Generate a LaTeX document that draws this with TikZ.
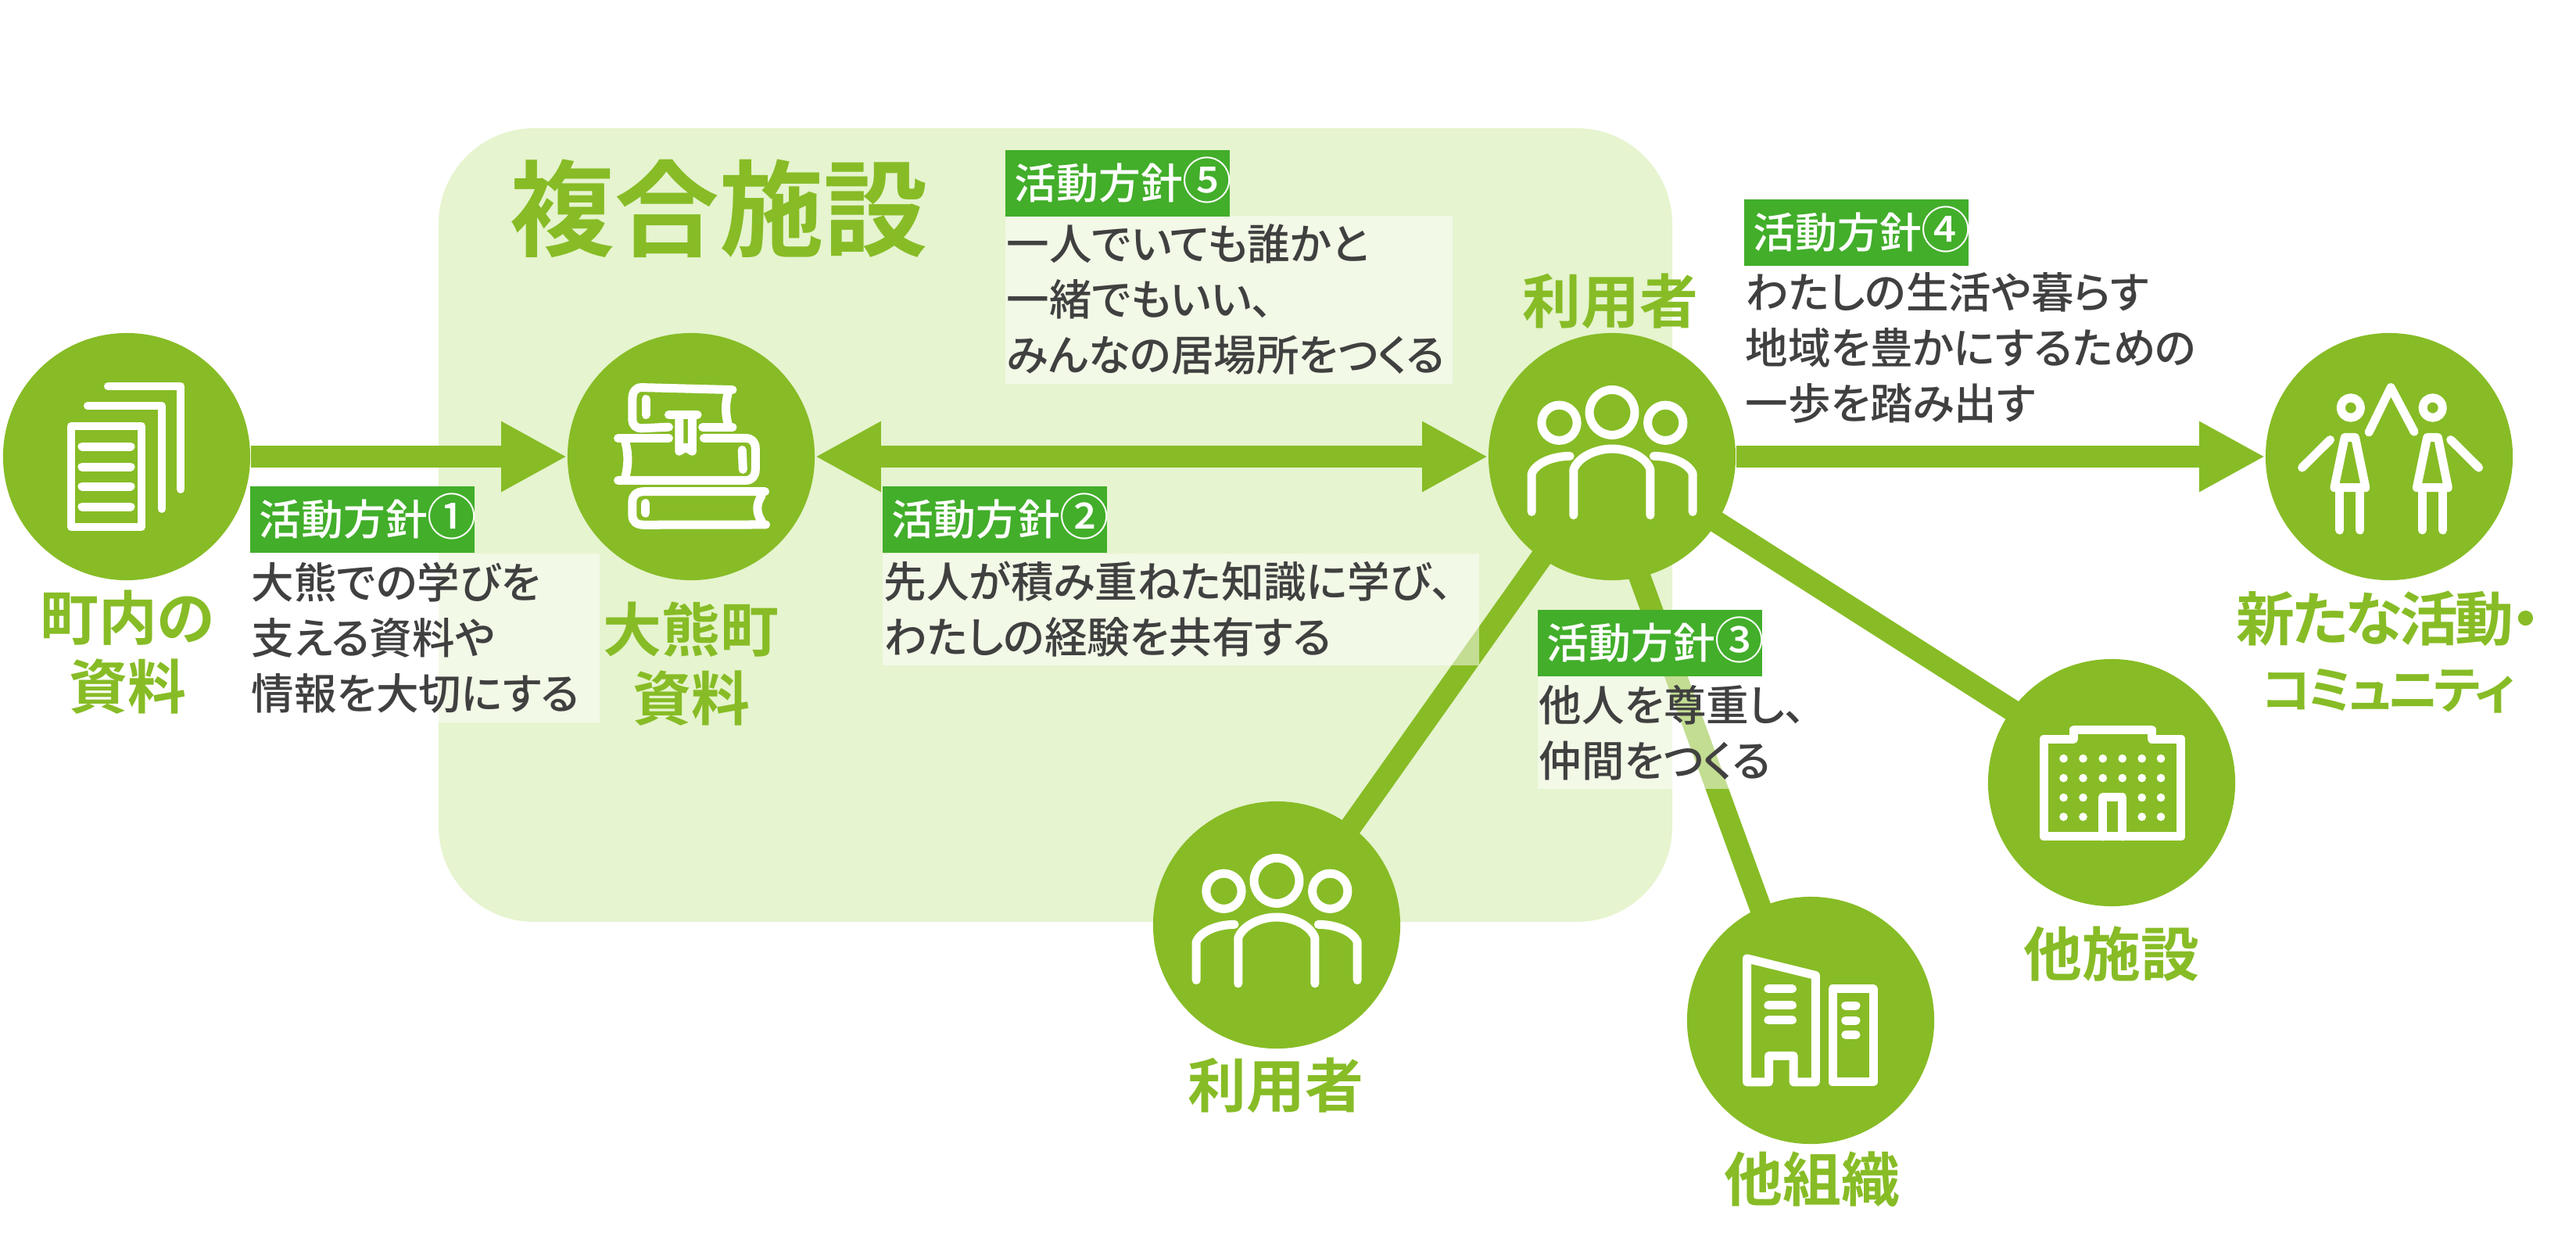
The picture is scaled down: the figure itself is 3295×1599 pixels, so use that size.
\documentclass[tikz,border=0pt]{standalone}
\usepackage{fontspec}
\setmainfont[RawFeature=+palt]{Noto Sans CJK JP}
\newfontfamily\jpmedium[RawFeature=+palt]{Noto Sans CJK JP Medium}
\newfontfamily\jpbold[RawFeature=+palt]{Noto Sans CJK JP Bold}
\usetikzlibrary{arrows.meta}
\definecolor{leaf}{HTML}{87BC26}
\definecolor{tagleaf}{HTML}{42AE2A}
\definecolor{paleleaf}{HTML}{E6F4CF}
\definecolor{inkgray}{HTML}{404040}
\newcommand{\policytag}[1]{活動方針\smash{\fontsize{18}{17}\selectfont #1}}
\tikzset{
	roundnode/.style={circle,fill=leaf,minimum size=3.16cm,inner sep=0pt},
	linkline/.style={leaf,line width=0.28cm,shorten <=-0.1cm,shorten >=-0.1cm},
	bigarrow/.style={leaf,line width=0.28cm,-{Triangle[length=0.84cm,width=0.84cm]}},
	tagbox/.style={fill=tagleaf,text=white,anchor=north west,text width=2.63cm,minimum height=0.85cm,inner xsep=0.12cm,inner ysep=0pt,align=left,font=\jpmedium\fontsize{15.3}{17}\selectfont},
	bodybox/.style={fill=white,fill opacity=0.5,text opacity=1,text=inkgray,anchor=north west,inner xsep=0.02cm,inner ysep=0pt,align=left,font=\jpmedium\fontsize{15.5}{20.2}\selectfont},
	leaflabel/.style={text=leaf,align=center,font=\jpbold\fontsize{21.3}{24.9}\selectfont},
	iconline/.style={white,line width=0.11cm,line cap=round,line join=round},
	usersicon/.pic={
		\begin{scope}[x=0.00333cm,y=-0.00333cm]
			\draw[iconline] (0,-170) circle (87);
			\draw[iconline] (-203,-130) circle (68);
			\draw[iconline] (205,-130) circle (68);
			\draw[iconline] (-148,225) -- (-148,50) .. controls (-130,0) and (-60,-30) .. (0,-30) .. controls (60,-30) and (130,0) .. (147,50) -- (147,225);
			\draw[iconline] (-309,212) -- (-309,65) .. controls (-290,20) and (-220,-2) .. (-162,-2);
			\draw[iconline] (310,212) -- (310,65) .. controls (290,20) and (220,-2) .. (160,-2);
		\end{scope}
	}
}
\begin{document}
\begin{tikzpicture}[x=0.01cm,y=-0.01cm]
	\useasboundingbox (0,0) rectangle (3295,1599);
	% background panel
	\fill[paleleaf,rounded corners=1.22cm] (561,164) rectangle (2139,1179);
	\node[text=leaf,font=\jpbold\fontsize{38}{44}\selectfont] (title) at (920,267) {複合施設};
	% circles
	\node[roundnode] (docs) at (162,584) {};
	\node[roundnode] (books) at (884,584) {};
	\node[roundnode] (users) at (2062,584) {};
	\node[roundnode] (newact) at (3056,584) {};
	\node[roundnode] (facility) at (2701,1001) {};
	\node[roundnode] (orgs) at (2316,1305) {};
	\node[roundnode] (usersb) at (1633,1183) {};
	% connectors
	\draw[linkline] (users.235) -- (usersb.53);
	\draw[linkline] (users.-77) -- (orgs.114);
	\draw[linkline] (users.-32) -- (facility.144);
	\draw[bigarrow] (docs) -- (books);
	\draw[bigarrow,{Triangle[length=0.84cm,width=0.84cm]}-{Triangle[length=0.84cm,width=0.84cm]}] (books) -- (users);
	\draw[bigarrow] (users) -- (newact);
	% policy texts
	\node[bodybox,text width=4.43cm,minimum height=2.16cm] (body1) at (319,707) {大熊での学びを\\支える資料や\\情報を大切にする};
	\node[tagbox] (tag1) at (319,621) {\policytag{①}};
	\node[bodybox,text width=7.59cm,minimum height=1.43cm] (body2) at (1128,707) {先人が積み重ねた知識に学び、\\わたしの経験を共有する};
	\node[tagbox] (tag2) at (1128,621) {\policytag{②}};
	\node[bodybox,text width=3.5cm,minimum height=1.44cm] (body3) at (1966,864) {他人を尊重し、\\仲間をつくる};
	\node[tagbox] (tag3) at (1966,779) {\policytag{③}};
	\node[bodybox,text width=5.76cm,minimum height=2.16cm] (body4) at (2230,336) {わたしの生活や暮らす\\地域を豊かにするための\\一歩を踏み出す};
	\node[tagbox] (tag4) at (2230,254) {\policytag{④}};
	\node[bodybox,text width=5.68cm,minimum height=2.15cm] (body5) at (1285,275) {一人でいても誰かと\\一緒でもいい、\\みんなの居場所をつくる};
	\node[tagbox] (tag5) at (1285,191) {\policytag{⑤}};
	% labels
	\node[leaflabel] (docslabel) at (163,834) {町内の\\資料};
	\node[leaflabel] (bookslabel) at (884,849) {大熊町\\資料};
	\node[leaflabel] (userslabel) at (2060,385) {利用者};
	\node[leaflabel] (newactlabel) at (3055,834) {{\addfontfeature{LetterSpace=-5}新たな活動・}\\{\fontsize{18.5}{24.9}\selectfont\addfontfeature{LetterSpace=-8}コミュニティ}};
	\node[leaflabel] (facilitylabel) at (2701,1220) {他施設};
	\node[leaflabel] (orgslabel) at (2318,1508) {他組織};
	\node[leaflabel] (usersblabel) at (1632,1388) {利用者};
	% icons
	\draw[iconline,line width=0.1cm] (91,545) rectangle (181,674);
	\foreach \y in {571,597,622,648} \draw[iconline] (105,\y) -- (167,\y);
	\draw[iconline,line width=0.1cm] (112,519) -- (207,519) -- (207,651);
	\draw[iconline,line width=0.1cm] (138,494) -- (231,494) -- (231,626);
	\begin{scope}[shift={(724,424)},x=0.00333cm,y=-0.00333cm]
		\draw[iconline] (640,224) -- (290,215) .. controls (265,215) and (255,235) .. (255,260) -- (255,340) .. controls (255,360) and (270,372) .. (290,372) -- (395,367);
		\draw[iconline] (622,240) .. controls (612,280) and (612,310) .. (622,355);
		\draw[iconline] (640,368) -- (525,368);
		\draw[iconline] (307,260) -- (307,320);
		\draw[iconline] (395,320) -- (505,320);
		\draw[iconline] (435,330) -- (435,460) -- (460,445) -- (485,460) -- (485,330);
		\draw[iconline] (200,410) -- (395,410);
		\draw[iconline] (530,410) -- (690,410) .. controls (715,410) and (728,425) .. (728,450) -- (728,530) .. controls (728,555) and (715,572) .. (690,572) -- (200,572);
		\draw[iconline] (228,425) .. controls (240,470) and (240,510) .. (228,560);
		\draw[iconline] (677,455) -- (680,530);
		\draw[iconline] (765,615) -- (300,615) .. controls (270,615) and (255,630) .. (255,655) -- (255,705) .. controls (255,730) and (270,743) .. (300,743) -- (768,742);
		\draw[iconline] (752,630) .. controls (730,665) and (730,695) .. (752,730);
		\draw[iconline] (306,660) -- (306,698);
	\end{scope}
	\pic at (users) {usersicon};
	\pic at (usersb) {usersicon};
	\begin{scope}[shift={(2896,424)},x=0.00333cm,y=-0.00333cm]
		\draw[iconline] (333,293) circle (38);
		\draw[iconline] (648,293) circle (38);
		\draw[iconline] (403,387) -- (487,215) -- (577,385);
		\draw[iconline] (146,523) -- (254,416);
		\draw[iconline] (825,523) -- (717,416);
		\draw[iconline] (310,407) -- (350,407) -- (390,600) -- (270,600) -- cycle;
		\draw[iconline] (291,600) -- (291,763);
		\draw[iconline] (369,600) -- (369,763);
		\draw[iconline] (627,407) -- (668,407) -- (707,600) -- (587,600) -- cycle;
		\draw[iconline] (608,600) -- (608,763);
		\draw[iconline] (687,600) -- (687,763);
	\end{scope}
	\begin{scope}[shift={(2541,841)},x=0.00333cm,y=-0.00333cm]
		\draw[iconline] (220,313) -- (335,313) -- (335,277) -- (635,277) -- (635,313) -- (748,313) -- (748,688) -- (220,688) -- cycle;
		\draw[iconline] (447,688) -- (447,537) -- (522,537) -- (522,688);
		\foreach \x in {296,371,597,670} \foreach \y in {388,463,538,612} \fill[white] (\x,\y) circle (16);
		\foreach \x in {447,522} \foreach \y in {388,463} \fill[white] (\x,\y) circle (16);
	\end{scope}
	\begin{scope}[shift={(2156,1145)},x=0.00333cm,y=-0.00333cm]
		\draw[iconline] (236,243) -- (500,308) -- (500,718) -- (415,718) -- (415,617) -- (320,617) -- (320,718) -- (236,718) -- cycle;
		\draw[iconline] (565,360) rectangle (722,718);
		\foreach \y in {360,423,480} \draw[iconline] (318,\y) -- (410,\y);
		\foreach \y in {424,481,536} \draw[iconline] (615,\y) -- (655,\y);
	\end{scope}
\end{tikzpicture}
\end{document}
